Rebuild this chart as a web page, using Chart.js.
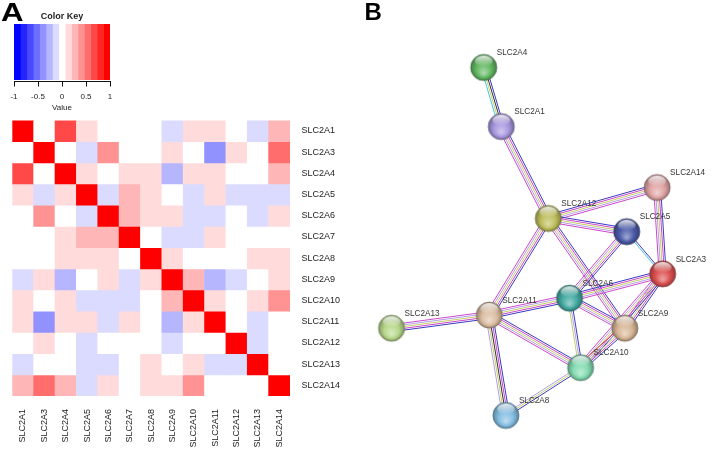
<!DOCTYPE html>
<html><head><meta charset="utf-8">
<script src="https://cdn.jsdelivr.net/npm/chart.js@4"></script>
<style>
html,body{margin:0;padding:0;background:#fff;width:720px;height:452px;overflow:hidden;}
canvas{position:absolute;}
</style></head><body>
<canvas id="key" width="130" height="115" style="left:0;top:0"></canvas>
<canvas id="heat" width="360" height="337" style="left:0;top:115px"></canvas>
<canvas id="net" width="360" height="452" style="left:360px;top:0"></canvas>
<script>
// ---------- DATA ----------
const genes = ['SLC2A1','SLC2A3','SLC2A4','SLC2A5','SLC2A6','SLC2A7','SLC2A8','SLC2A9','SLC2A10','SLC2A11','SLC2A12','SLC2A13','SLC2A14'];
const rowA1  = [1, 0, 0.67, 0.13, 0, 0, 0, -0.13, 0.13, 0.13, 0, -0.13, 0.27];
const rowA3  = [0, 1, 0, -0.13, 0.4, 0, 0, 0.13, 0, -0.4, 0.13, 0, 0.53];
const rowA4  = [0.67, 0, 1, 0.13, 0, 0.13, 0.13, -0.27, 0.13, 0.13, 0, 0, 0.27];
const rowA5  = [0.13, -0.13, 0.13, 1, -0.13, 0.27, 0.13, 0, -0.13, 0.13, -0.13, -0.13, -0.13];
const rowA6  = [0, 0.4, 0, -0.13, 1, 0.27, 0.13, 0.13, -0.13, -0.13, 0, -0.13, 0.13];
const rowA7  = [0, 0, 0.13, 0.27, 0.27, 1, 0, -0.13, -0.13, 0.13, 0, 0, 0];
const rowA8  = [0, 0, 0.13, 0.13, 0.13, 0, 1, 0.13, 0, 0, 0, 0.13, 0.13];
const rowA9  = [-0.13, 0.13, -0.27, 0, 0.13, -0.13, 0.13, 1, 0.27, -0.27, -0.13, 0, 0.13];
const rowA10 = [0.13, 0, 0.13, -0.13, -0.13, -0.13, 0, 0.27, 1, 0.13, 0, 0.13, 0.4];
const rowA11 = [0.13, -0.4, 0.13, 0.13, -0.13, 0.13, 0, -0.27, 0.13, 1, 0, -0.13, 0];
const rowA12 = [0, 0.13, 0, -0.13, 0, 0, 0, -0.13, 0, 0, 1, -0.13, 0];
const rowA13 = [-0.13, 0, 0, -0.13, -0.13, 0, 0.13, 0, 0.13, -0.13, -0.13, 1, 0];
const rowA14 = [0.27, 0.53, 0.27, -0.13, 0.13, 0, 0.13, 0.13, 0.4, 0, 0, 0, 1];
const corrRows = [rowA1,rowA3,rowA4,rowA5,rowA6,rowA7,rowA8,rowA9,rowA10,rowA11,rowA12,rowA13,rowA14];

const keyBreaks = [-1, -0.8667, -0.7333, -0.6, -0.4667, -0.3333, -0.2, -0.0667, 0.0667, 0.2, 0.3333, 0.4667, 0.6, 0.7333, 0.8667, 1];
const keyColors = ['#0000FF','#2424FF','#4949FF','#6D6DFF','#9292FF','#B6B6FF','#DBDBFF','#FFFFFF','#FFDBDB','#FFB6B6','#FF9292','#FF6D6D','#FF4949','#FF2424','#FF0000'];
const keyTicks = [-1, -0.5, 0, 0.5, 1];

const nodeNames = ['SLC2A4','SLC2A1','SLC2A14','SLC2A12','SLC2A5','SLC2A3','SLC2A6','SLC2A11','SLC2A13','SLC2A9','SLC2A10','SLC2A8'];
const nodeX = [119, 138, 307, 189, 274, 313, 212, 125, 19, 272, 224, 143];
const nodeY = [57, 120, 185, 218, 232, 277, 303, 321, 335, 335, 377, 428];
const nodeColors = ['#62b862','#a898e0','#e0a4a4','#bebe5c','#4a5aa8','#dc5050','#42aaa2','#dcbea2','#b8d88a','#d8b696','#84dcb2','#84bee2'];
const edges = [
  ['SLC2A4','SLC2A1','bkyc'],
  ['SLC2A1','SLC2A12','bmylm'],
  ['SLC2A12','SLC2A14','bmylm'],
  ['SLC2A12','SLC2A5','bmylm'],
  ['SLC2A12','SLC2A11','bmylm'],
  ['SLC2A12','SLC2A9','bmylm'],
  ['SLC2A14','SLC2A3','bmylm'],
  ['SLC2A5','SLC2A3','bc'],
  ['SLC2A5','SLC2A6','bmylm'],
  ['SLC2A6','SLC2A3','bmylm'],
  ['SLC2A6','SLC2A11','bmylm'],
  ['SLC2A6','SLC2A9','bmylm'],
  ['SLC2A6','SLC2A10','bly'],
  ['SLC2A3','SLC2A9','bmylm'],
  ['SLC2A3','SLC2A10','bmylm'],
  ['SLC2A9','SLC2A10','bmylr'],
  ['SLC2A11','SLC2A13','bmylm'],
  ['SLC2A11','SLC2A8','bmkyl'],
  ['SLC2A11','SLC2A10','bmylm'],
  ['SLC2A10','SLC2A8','byl']
];
const edgeColors = {b:'#3a3ac4', m:'#cc48cc', y:'#c6d066', l:'#b4a0e6', c:'#44c4e6', k:'#333333', r:'#e03232'};

// ---------- STYLE ----------
const FONT = '"Liberation Sans", Arial, sans-serif';
Chart.defaults.font.family = FONT;
Chart.defaults.color = '#222';
Chart.defaults.animation = false;

function binColor(v) {
  let i = 0;
  while (i < keyColors.length - 1 && v >= keyBreaks[i + 1]) i++;
  return keyColors[i];
}

// ---------- COLOR KEY ----------
const keyDecor = {
  id: 'keyDecor',
  afterDraw(chart) {
    const ctx = chart.ctx;
    const xs = chart.scales.x;
    const yb = Math.round(chart.chartArea.bottom) + 1.5;
    ctx.save();
    ctx.strokeStyle = '#111';
    ctx.lineWidth = 1;
    ctx.beginPath();
    ctx.moveTo(Math.round(xs.getPixelForValue(keyTicks[0])), yb);
    ctx.lineTo(Math.round(xs.getPixelForValue(keyTicks[keyTicks.length - 1])) + 1, yb);
    ctx.stroke();
    keyTicks.forEach(v => {
      const px = Math.round(xs.getPixelForValue(v)) + 0.5;
      ctx.beginPath();
      ctx.moveTo(px, yb);
      ctx.lineTo(px, yb + 5);
      ctx.stroke();
    });
    ctx.font = 'bold 26px ' + FONT;
    ctx.fillStyle = '#000';
    ctx.textBaseline = 'alphabetic';
    ctx.translate(1, 20.7);
    ctx.scale(1.2, 1);
    ctx.fillText('A', 0, 0);
    ctx.restore();
  }
};
new Chart(document.getElementById('key'), {
  type: 'bar',
  data: {
    labels: ['key'],
    datasets: keyColors.map((c, i) => ({
      data: [[keyBreaks[i], keyBreaks[i + 1]]],
      backgroundColor: c, borderWidth: 0, grouped: false,
      barPercentage: 1, categoryPercentage: 1
    }))
  },
  options: {
    responsive: false, indexAxis: 'y', events: [],
    layout: { padding: { left: 14, right: 20, top: 0, bottom: 0 } },
    plugins: {
      legend: { display: false }, tooltip: { enabled: false },
      title: { display: true, text: 'Color Key', color: '#222', font: { size: 9, weight: 'bold' }, padding: { top: 11.5, bottom: 1.7 } }
    },
    scales: {
      y: { display: false },
      x: {
        type: 'linear', min: -1, max: 1,
        afterBuildTicks: s => { s.ticks = keyTicks.map(v => ({ value: v })); },
        afterFit: s => { s.height = 35; },
        ticks: { font: { size: 8 }, color: '#222', padding: 7, callback: v => String(v) },
        grid: { display: false, drawTicks: true, tickLength: 5 },
        border: { display: false },
        title: { display: true, text: 'Value', font: { size: 8 }, color: '#222', padding: { top: 0, bottom: 2 } }
      }
    }
  },
  plugins: [keyDecor]
});

// ---------- HEATMAP ----------
new Chart(document.getElementById('heat'), {
  type: 'bar',
  data: {
    labels: genes,
    datasets: corrRows.map((row, r) => ({
      data: genes.map((g, c) => ({ x: g, y: [r - 0.5, r + 0.5] })),
      backgroundColor: row.map(binColor),
      borderWidth: 0, grouped: false, barPercentage: 1, categoryPercentage: 1
    }))
  },
  options: {
    responsive: false, events: [],
    layout: { padding: { left: 12.3, top: 5, right: 0, bottom: 0 } },
    plugins: { legend: { display: false }, tooltip: { enabled: false } },
    scales: {
      x: {
        type: 'category', offset: true,
        afterFit: s => { s.height = 56; },
        ticks: { autoSkip: false, minRotation: 90, maxRotation: 90, font: { size: 9 }, color: '#222', padding: 13 },
        grid: { display: false, drawTicks: false }, border: { display: false }
      },
      y: {
        type: 'linear', position: 'right', reverse: true, min: -0.5, max: 12.5,
        afterBuildTicks: s => { s.ticks = genes.map((g, i) => ({ value: i })); },
        afterFit: s => { s.width = 70; },
        ticks: { callback: v => genes[v], font: { size: 9 }, color: '#222', padding: 0 },
        grid: { display: false, drawTicks: true, tickLength: 11.5 }, border: { display: false }
      }
    }
  }
});

// ---------- NETWORK ----------
function shade(hex, f) {
  const n = parseInt(hex.slice(1), 16);
  let r = (n >> 16) & 255, g = (n >> 8) & 255, b = n & 255;
  if (f >= 0) { r += (255 - r) * f; g += (255 - g) * f; b += (255 - b) * f; }
  else { r *= 1 + f; g *= 1 + f; b *= 1 + f; }
  return 'rgb(' + Math.round(r) + ',' + Math.round(g) + ',' + Math.round(b) + ')';
}
function sphere(color, rad) {
  const s = Math.ceil(2 * rad + 4);
  const cv = document.createElement('canvas');
  cv.width = s; cv.height = s;
  const g = cv.getContext('2d');
  const cx = s / 2, cy = s / 2;
  const grad = g.createRadialGradient(cx, cy + rad * 0.45, rad * 0.05, cx, cy, rad);
  grad.addColorStop(0, shade(color, 0.45));
  grad.addColorStop(0.55, color);
  grad.addColorStop(1, shade(color, -0.3));
  g.beginPath(); g.arc(cx, cy, rad, 0, Math.PI * 2);
  g.fillStyle = grad; g.fill();
  g.lineWidth = 0.8; g.strokeStyle = shade(color, -0.45); g.stroke();
  g.save();
  g.beginPath(); g.ellipse(cx, cy - rad * 0.5, rad * 0.68, rad * 0.42, 0, 0, Math.PI * 2);
  const hg = g.createLinearGradient(0, cy - rad * 0.92, 0, cy - rad * 0.1);
  hg.addColorStop(0, 'rgba(255,255,255,0.85)');
  hg.addColorStop(1, 'rgba(255,255,255,0)');
  g.fillStyle = hg; g.fill();
  g.restore();
  return cv;
}
const sphereImgs = nodeColors.map(c => sphere(c, 13));

const netPlugin = {
  id: 'netPlugin',
  beforeDatasetsDraw(chart) {
    const { ctx, scales: { x, y } } = chart;
    ctx.save();
    ctx.lineWidth = 1;
    edges.forEach(([a, b, cols]) => {
      const ia = nodeNames.indexOf(a), ib = nodeNames.indexOf(b);
      const x1 = x.getPixelForValue(nodeX[ia]), y1 = y.getPixelForValue(nodeY[ia]);
      const x2 = x.getPixelForValue(nodeX[ib]), y2 = y.getPixelForValue(nodeY[ib]);
      const dx = x2 - x1, dy = y2 - y1, len = Math.hypot(dx, dy);
      const px = -dy / len, py = dx / len;
      const n = cols.length;
      for (let i = 0; i < n; i++) {
        const o = (i - (n - 1) / 2) * 1.75;
        ctx.beginPath();
        ctx.moveTo(x1 + px * o, y1 + py * o);
        ctx.lineTo(x2 + px * o, y2 + py * o);
        ctx.strokeStyle = edgeColors[cols[i]];
        ctx.stroke();
      }
    });
    ctx.restore();
  },
  afterDatasetsDraw(chart) {
    const { ctx } = chart;
    const meta = chart.getDatasetMeta(0);
    ctx.save();
    ctx.font = '8.2px ' + FONT;
    ctx.fillStyle = '#333';
    ctx.textAlign = 'left';
    ctx.textBaseline = 'middle';
    meta.data.forEach((pt, i) => {
      ctx.fillText(nodeNames[i], pt.x + 13, pt.y - 14.5);
    });
    ctx.font = 'bold 24px ' + FONT;
    ctx.fillStyle = '#000';
    ctx.textBaseline = 'alphabetic';
    ctx.fillText('B', 4.5, 20);
    ctx.restore();
  }
};

new Chart(document.getElementById('net'), {
  type: 'scatter',
  data: {
    datasets: [{
      data: nodeNames.map((n, i) => ({ x: nodeX[i], y: nodeY[i] })),
      pointStyle: sphereImgs,
      pointRadius: 13
    }]
  },
  options: {
    responsive: false, events: [],
    layout: { padding: 0 },
    plugins: { legend: { display: false }, tooltip: { enabled: false } },
    scales: {
      x: { type: 'linear', display: false, min: 0, max: 360 },
      y: { type: 'linear', display: false, min: 0, max: 452, reverse: true }
    }
  },
  plugins: [netPlugin]
});
</script>
</body></html>
